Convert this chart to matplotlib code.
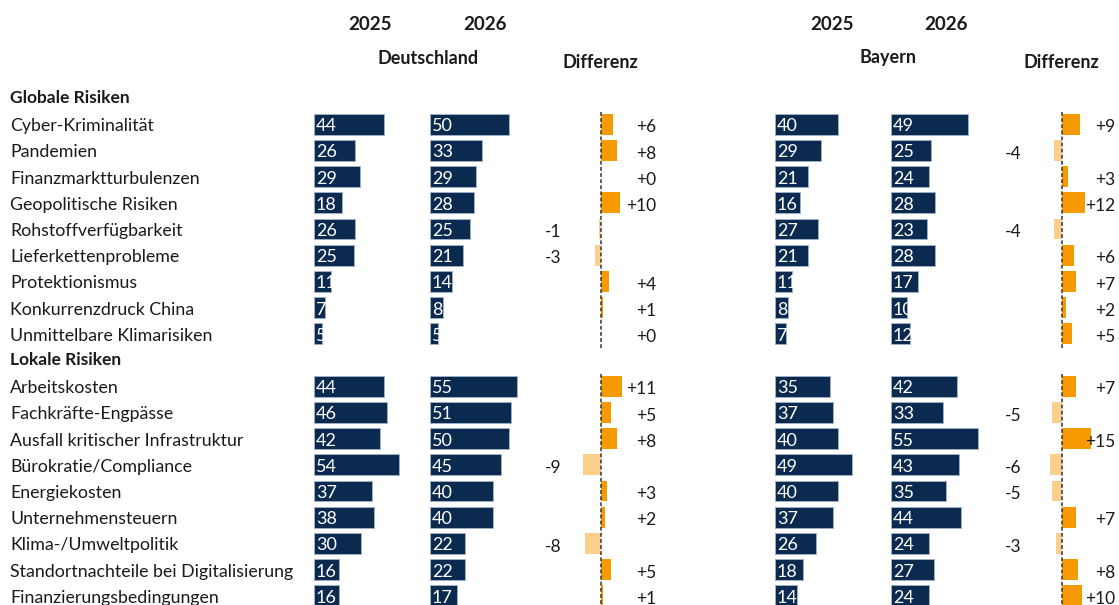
import matplotlib
matplotlib.use("Agg")
import matplotlib.pyplot as plt
import numpy as np

# ── Data ──────────────────────────────────────────────────────────────────────
global_labels = ["Cyber-Kriminalität", "Pandemien", "Finanzmarktturbulenzen",
                 "Geopolitische Risiken", "Rohstoffverfügbarkeit",
                 "Lieferkettenprobleme", "Protektionismus",
                 "Konkurrenzdruck China", "Unmittelbare Klimarisiken"]
local_labels = ["Arbeitskosten", "Fachkräfte-Engpässe",
                "Ausfall kritischer Infrastruktur", "Bürokratie/Compliance",
                "Energiekosten", "Unternehmensteuern", "Klima-/Umweltpolitik",
                "Standortnachteile bei Digitalisierung",
                "Finanzierungsbedingungen"]

de_2025 = [44, 26, 29, 18, 26, 25, 11, 7, 5,
           44, 46, 42, 54, 37, 38, 30, 16, 16]
de_2026 = [50, 33, 29, 28, 25, 21, 14, 8, 5,
           55, 51, 50, 45, 40, 40, 22, 22, 17]
de_diff = [6, 8, 0, 10, -1, -3, 4, 1, 0,
           11, 5, 8, -9, 3, 2, -8, 5, 1]

by_2025 = [40, 29, 21, 16, 27, 21, 11, 8, 7,
           35, 37, 40, 49, 40, 37, 26, 18, 14]
by_2026 = [49, 25, 24, 28, 23, 28, 17, 10, 12,
           42, 33, 55, 43, 35, 44, 24, 27, 24]
by_diff = [9, -4, 3, 12, -4, 6, 7, 2, 5,
           7, -5, 15, -6, -5, 7, -3, 8, 10]

# ── Style ─────────────────────────────────────────────────────────────────────
plt.rcParams["font.family"] = ["Lato", "DejaVu Sans"]
NAVY = "#0b2a50"
ORANGE = "#f59a00"
LIGHT_ORANGE = "#fdcf8c"
TXT = "#1a1a1a"

W, H = 1119, 605
ROW0_PX, ROW_PX = 98, 26.2          # pixel y of first row and row pitch
ylim = ((H - ROW0_PX) / ROW_PX, -ROW0_PX / ROW_PX)

# row positions: 0 = "Globale Risiken", 1..9, 10 = "Lokale Risiken", 11..19
rows = np.r_[np.arange(1, 10), np.arange(11, 20)]

fig = plt.figure(figsize=(W / 100, H / 100), dpi=100)


def make_ax(x0, x1, xlim):
    ax = fig.add_axes([x0 / W, 0, (x1 - x0) / W, 1])
    ax.set_xlim(*xlim)
    ax.set_ylim(*ylim)
    ax.axis("off")
    return ax


def value_panel(x0, vals):
    # 1.58 px per percentage point
    ax = make_ax(x0, x0 + 110, (0, 110 / 1.58))
    bars = ax.barh(rows, vals, height=0.8, color=NAVY,
                   edgecolor="#9fb0c4", linewidth=0.7)
    for bar, v, r in zip(bars, vals, rows):
        t = ax.text(1.2, r + 0.08, str(v), color="white", fontsize=13,
                    ha="left", va="center")
        t.set_clip_path(bar)
    return ax


def diff_panel(x0, zero_px, x1, vals):
    scale = 1.95
    ax = make_ax(x0, x1, ((x0 - zero_px) / scale, (x1 - zero_px) / scale))
    colors = [ORANGE if v >= 0 else LIGHT_ORANGE for v in vals]
    ax.barh(rows, vals, height=0.8, color=colors, edgecolor="none")
    for seg in [(0.55, 9.55), (10.55, 19.6)]:
        ax.vlines(0, *seg, colors="#333333", linestyles=(0, (2.5, 1.5)),
                  linewidth=1.1)
    pos_x = (x1 - 4 - zero_px) / scale
    neg_x = (x0 + 5 - zero_px) / scale
    for v, r in zip(vals, rows):
        if v >= 0:
            ax.text(pos_x, r + 0.12, f"+{v}", ha="right", va="center",
                    fontsize=12.5, color=TXT)
        else:
            ax.text(neg_x, r + 0.12, f"{v}", ha="left", va="center",
                    fontsize=12.5, color=TXT)
    return ax


# ── Labels column ─────────────────────────────────────────────────────────────
lab = make_ax(0, 310, (0, 310))
lab.text(10, 0, "Globale Risiken", fontsize=12.5, fontweight="bold",
         ha="left", va="center", color=TXT)
lab.text(10, 10, "Lokale Risiken", fontsize=12.5, fontweight="bold",
         ha="left", va="center", color=TXT)
for r, name in zip(rows, global_labels + local_labels):
    lab.text(10, r + 0.08, name, fontsize=12.8, ha="left", va="center",
             color=TXT)

# ── Panels ────────────────────────────────────────────────────────────────────
value_panel(314, de_2025)
value_panel(430, de_2026)
diff_panel(540, 601, 660, de_diff)
value_panel(775, by_2025)
value_panel(891, by_2026)
diff_panel(1000, 1062, 1119, by_diff)

# ── Headers ───────────────────────────────────────────────────────────────────
hdr = dict(fontweight="bold", color=TXT, ha="center", va="center")
fig.text(370 / W, 1 - 25 / H, "2025", fontsize=13.5, **hdr)
fig.text(485 / W, 1 - 25 / H, "2026", fontsize=13.5, **hdr)
fig.text(428 / W, 1 - 58 / H, "Deutschland", fontsize=13, **hdr)
fig.text(600 / W, 1 - 62 / H, "Differenz", fontsize=13, **hdr)
fig.text(832 / W, 1 - 25 / H, "2025", fontsize=13.5, **hdr)
fig.text(946 / W, 1 - 25 / H, "2026", fontsize=13.5, **hdr)
fig.text(888 / W, 1 - 58 / H, "Bayern", fontsize=13, **hdr)
fig.text(1061 / W, 1 - 62 / H, "Differenz", fontsize=13, **hdr)

fig.savefig("out.png", dpi=100, facecolor="white")
